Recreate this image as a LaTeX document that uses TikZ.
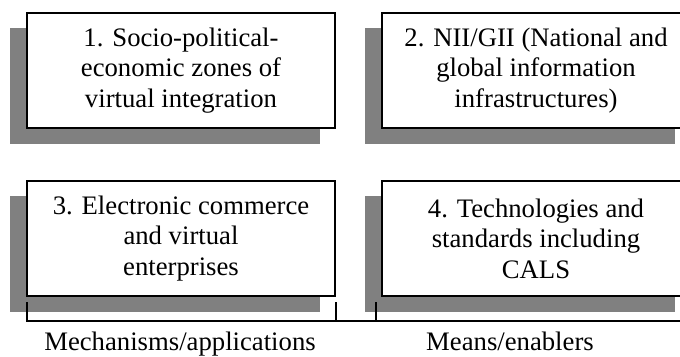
\documentclass[tikz,border=0pt]{standalone}
\usepackage{fontspec}
\setmainfont{Liberation Serif}
\begin{document}
\begin{tikzpicture}[x=1bp,y=-1bp,
  box/.style={draw=black, line width=1.3bp, fill=white, minimum width=308bp, minimum height=115bp,
    inner sep=0pt, align=center, font=\fontsize{26.7bp}{30.5bp}\selectfont},
  shade/.style={fill=shadowgray},
  brk/.style={line width=1.2bp, draw=black},
  lab/.style={inner sep=0pt, font=\fontsize{26.7bp}{30.5bp}\selectfont}]
\definecolor{shadowgray}{RGB}{128,128,128}
\clip (0,0) rectangle (680,356);
\fill[white] (0,0) rectangle (680,356);
% shadows
\fill[shade] (10,28) rectangle (320,144);
\fill[shade] (365,28) rectangle (675,144);
\fill[shade] (10,196) rectangle (320,312);
\fill[shade] (365,196) rectangle (675,312);
% boxes
\node[box] (b1) at (181,70.5) {1. Socio-political-\\economic zones of\\virtual integration};
\node[box] (b2) at (536,70.5) {2. NII/GII (National and\\global information\\infrastructures)};
\node[box] (b3) at (181,238.5) {3. Electronic commerce\\and virtual\\enterprises};
\node[box] (b4) at (536,238.5) {4. Technologies and\\standards including\\CALS};
% bracket
\coordinate (l0) at (27,321);
\coordinate (l1) at (27,302);
\coordinate (m0) at (336,321);
\coordinate (m1) at (336,302);
\coordinate (n0) at (376,321);
\coordinate (n1) at (376,302);
\coordinate (r0) at (685,321);
\draw[brk] (l1) -- (l0) -- (r0);
\draw[brk] (m1) -- (m0);
\draw[brk] (n1) -- (n0);
% labels
\node[lab, anchor=base] (t1) at (180,350) {Mechanisms/applications};
\node[lab, anchor=base] (t2) at (510,350) {Means/enablers};
\end{tikzpicture}
\end{document}
